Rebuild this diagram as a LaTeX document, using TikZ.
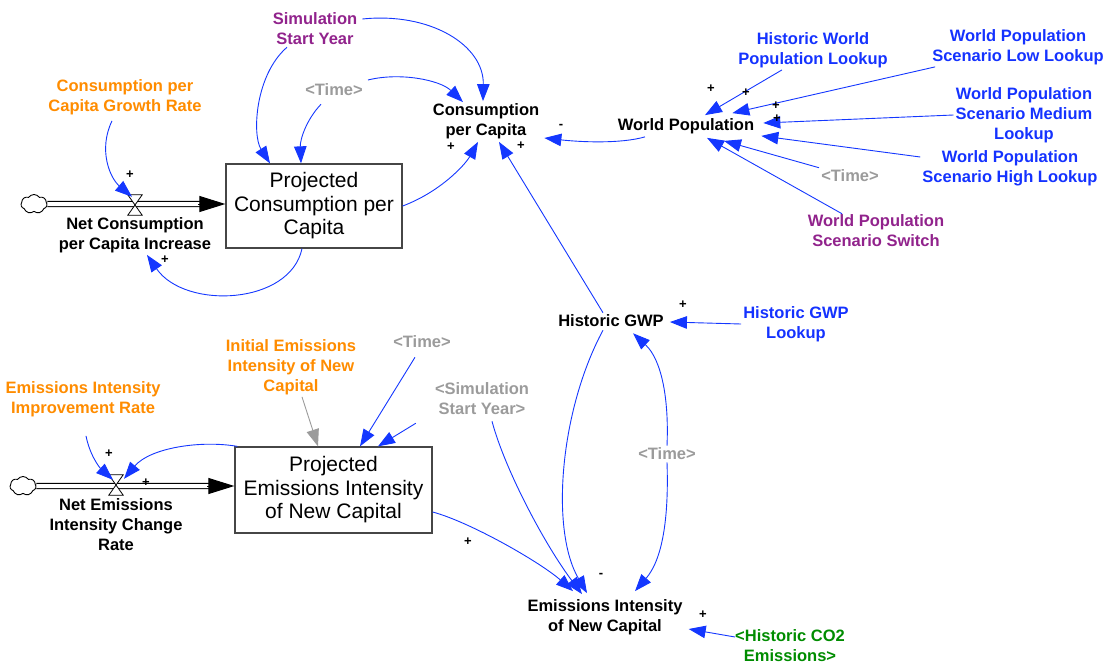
\documentclass[tikz,border=0pt]{standalone}
\usepackage{fontspec}
\setmainfont{Liberation Sans}
\usetikzlibrary{arrows.meta,calc,shapes.symbols}

\definecolor{linkblue}{RGB}{20,55,255}
\definecolor{lblblue}{RGB}{20,50,255}
\definecolor{lblpurple}{RGB}{145,35,140}
\definecolor{lblorange}{RGB}{255,140,0}
\definecolor{lblgray}{RGB}{155,155,155}
\definecolor{lblgreen}{RGB}{0,140,0}
\definecolor{boxgray}{RGB}{70,70,70}

\newcommand\vslabelfont{\fontsize{16.5}{20}\bfseries\selectfont}
\newcommand\vsstockfont{\fontsize{21}{23.5}\selectfont}
\newcommand\vspolfont{\fontsize{13}{13}\bfseries\selectfont}

\begin{document}
\begin{tikzpicture}[x=1pt,y=-1pt,
  var/.style={font=\vslabelfont, align=center, inner sep=2pt, text=black},
  stock/.style={draw=boxgray, line width=1.3pt, fill=white, font=\vsstockfont, align=center, inner sep=0pt},
  pol/.style={font=\vspolfont, inner sep=0pt},
  link/.style={draw=linkblue, line width=0.9pt, -{Triangle[length=17pt,width=12.5pt]}},
  graylink/.style={draw=lblgray, line width=0.9pt, -{Triangle[length=17pt,width=12.5pt]}},
  pipe/.style={draw=black, line width=1.2pt, double=white, double distance=4pt},
  flowtip/.style={line width=1pt, -{Triangle[length=26pt,width=16pt]}},
  source/.style={cloud, cloud puffs=7, cloud puff arc=110, draw, line width=0.9pt, minimum width=26pt, minimum height=19pt, inner sep=0pt},
  valve/.style={minimum width=14pt, minimum height=20pt, inner sep=0pt},
  hourglass/.style={fill=white, draw=black, line width=0.8pt}]

\useasboundingbox (0,0) rectangle (1109,664);

% ---------- variables ----------
\node[var, text=lblpurple] (ssy) at (315,29) {Simulation\\Start Year};
\node[var, text=lblorange] (cgr) at (125,97) {Consumption per\\Capita Growth Rate};
\node[var, text=lblgray] (t1) at (334,90) {<Time>};
\node[var] (cpc) at (486,121) {Consumption\\per Capita};
\node[var] (ncpi) at (135,235) {Net Consumption\\per Capita Increase};

\node[var] (wp) at (686,126) {World Population};
\node[var, text=lblblue] (hwpl) at (813,50) {Historic World\\Population Lookup};
\node[var, text=lblblue] (wpsl) at (1018,47) {World Population\\Scenario Low Lookup};
\node[var, text=lblblue] (wpsm) at (1024,115) {World Population\\Scenario Medium\\Lookup};
\node[var, text=lblblue] (wpsh) at (1010,168) {World Population\\Scenario High Lookup};
\node[var, text=lblgray] (t2) at (850,176) {<Time>};
\node[var, text=lblpurple] (wpss) at (876,231) {World Population\\Scenario Switch};

\node[var] (hgwp) at (611,321) {Historic GWP};
\node[var, text=lblblue] (hgwpl) at (796,324) {Historic GWP\\Lookup};
\node[var, text=lblgray] (t3) at (667,454) {<Time>};
\node[var, text=lblgray] (ssy2) at (482,399) {<Simulation\\Start Year>};
\node[var, text=lblgray] (t4) at (422,342) {<Time>};
\node[var, text=lblorange] (ieinc) at (291,367) {Initial Emissions\\Intensity of New\\Capital};
\node[var, text=lblorange] (eiir) at (83,399) {Emissions Intensity\\Improvement Rate};
\node[var] (neicr) at (116,525) {Net Emissions\\Intensity Change\\Rate};
\node[var] (einc) at (605,617) {Emissions Intensity\\of New Capital};
\node[var, text=lblgreen] (hco2) at (790,646) {<Historic CO2\\Emissions>};

% ---------- stocks ----------
\node[stock, minimum width=176pt, minimum height=84pt] (pcpc) at (314,206) {Projected\\Consumption per\\Capita};
\node[stock, minimum width=197pt, minimum height=86pt] (peinc) at (333.5,490) {Projected\\Emissions Intensity\\of New Capital};

% ---------- flows ----------
\node[source] (cl1) at (34,204) {};
\node[valve] (v1) at (135,205) {};
\draw[pipe] (cl1.east) -- ($(pcpc.west)+(-20,-2)$);
\draw[flowtip] ($(pcpc.west)+(-27,-2)$) -- ($(pcpc.west)+(0,-2)$);
\draw[hourglass] (v1.north west) -- (v1.north east) -- (v1.south west) -- (v1.south east) -- cycle;

\node[source] (cl2) at (23,486) {};
\node[valve] (v2) at (116,485) {};
\draw[pipe] (cl2.east) -- ($(peinc.west)+(-20,-4)$);
\draw[flowtip] ($(peinc.west)+(-27,-4)$) -- ($(peinc.west)+(0,-4)$);
\draw[hourglass] (v2.north west) -- (v2.north east) -- (v2.south west) -- (v2.south east) -- cycle;

% ---------- links: consumption sector ----------
\draw[link] ($(ssy.east)+(3,-10)$) .. controls (430,12) and (484,45) .. ($(cpc.north)+(-3,0)$);
\draw[link] ($(t1.east)+(3,-10)$) .. controls (400,72) and (440,80) .. ($(cpc.north)+(-23,1)$);
\draw[link] ($(t1.south)+(-13,6)$) .. controls (306,120) and (300,140) .. ($(pcpc.north)+(-13,0)$);
\draw[link] ($(ssy.south)+(-28,0)$) .. controls (255,75) and (252,135) .. ($(pcpc.north)+(-44,0)$);
\draw[link] ($(cgr.south)+(-13,4)$) .. controls (98,150) and (110,178) .. ($(v1.north)+(-3,2)$);
\draw[link] ($(pcpc.south)+(-12,0)$) .. controls (290,305) and (185,310) .. ($(ncpi.south)+(12,0)$);
\draw[link] (pcpc.east) .. controls (440,192) and (465,165) .. ($(cpc.south)+(-8,1)$);
\draw[link] ($(hgwp.north)+(-8,0)$) -- ($(cpc.south)+(13,1)$);
\draw[link] ($(wp.south)+(-41,1)$) .. controls (620,144) and (580,142) .. ($(cpc.east)+(3,17)$);

% ---------- links: population ----------
\draw[link] ($(hwpl.south)+(-31,0)$) -- ($(wp.north)+(19,-1)$);
\draw[link] ($(wpsl.south west)+(5,0)$) -- ($(wp.north east)+(-24,-3)$);
\draw[link] (wpsm.west) -- ($(wp.east)+(7,-3)$);
\draw[link] ($(wpsh.west)+(0,-11)$) -- ($(wp.south east)+(5,0)$);
\draw[link] (t2.north west) -- ($(wp.south)+(38,5)$);
\draw[link] ($(wpss.north)+(-34,1)$) -- ($(wp.south)+(21,2)$);

% ---------- links: GWP and emissions ----------
\draw[link] (hgwpl.west) -- ($(hgwp.east)+(4,1)$);
\draw[link] ($(hgwp.south)+(-8,1)$) .. controls (560,410) and (550,530) .. ($(einc.north)+(-18,-4)$);
\draw[link] (t3.north) .. controls (669,400) and (662,360) .. ($(hgwp.south)+(22,4)$);
\draw[link] (t3.south) .. controls (669,520) and (662,560) .. ($(einc.north)+(30,-6)$);
\draw[link] ($(ssy2.south)+(10,4)$) .. controls (505,470) and (545,545) .. ($(einc.north)+(-23,-3)$);
\draw[link] ($(peinc.east)+(0,22)$) .. controls (470,522) and (540,562) .. ($(einc.north)+(-32,-6)$);
\draw[link] ($(hco2.west)+(2,-9)$) -- ($(einc.east)+(4,12)$);

% ---------- links: emissions intensity stock ----------
\draw[link] ($(t4.south)+(-7,7)$) -- ($(peinc.north)+(26.5,0)$);
\draw[link] ($(ssy2.south west)+(-17,6)$) -- ($(peinc.north)+(44.5,0)$);
\draw[graylink] ($(ieinc.south)+(11,0)$) -- ($(peinc.north)+(-15.5,0)$);
\draw[link] ($(eiir.south)+(3,17)$) .. controls (90,456) and (100,468) .. ($(v2.north)+(-3,5)$);
\draw[link] ($(peinc.north west)+(3,0)$) .. controls (200,440) and (150,448) .. ($(v2.north)+(8,4)$);

% ---------- polarities ----------
\node[pol] (p1) at (130,175) {+};
\node[pol] (p2) at (165,260) {+};
\node[pol] (p3) at (451,147) {+};
\node[pol] (p4) at (521,146) {+};
\node[pol] (p5) at (561,126) {-};
\node[pol] (p6) at (711,89) {+};
\node[pol] (p7) at (746,93) {+};
\node[pol] (p8) at (776,106) {+};
\node[pol] (p9) at (777,119) {+};
\node[pol] (p10) at (683,305) {+};
\node[pol] (p11) at (601,575) {-};
\node[pol] (p12) at (468,542) {+};
\node[pol] (p13) at (703,615) {+};
\node[pol] (p14) at (109,454) {+};
\node[pol] (p15) at (146,483) {+};

\end{tikzpicture}
\end{document}
